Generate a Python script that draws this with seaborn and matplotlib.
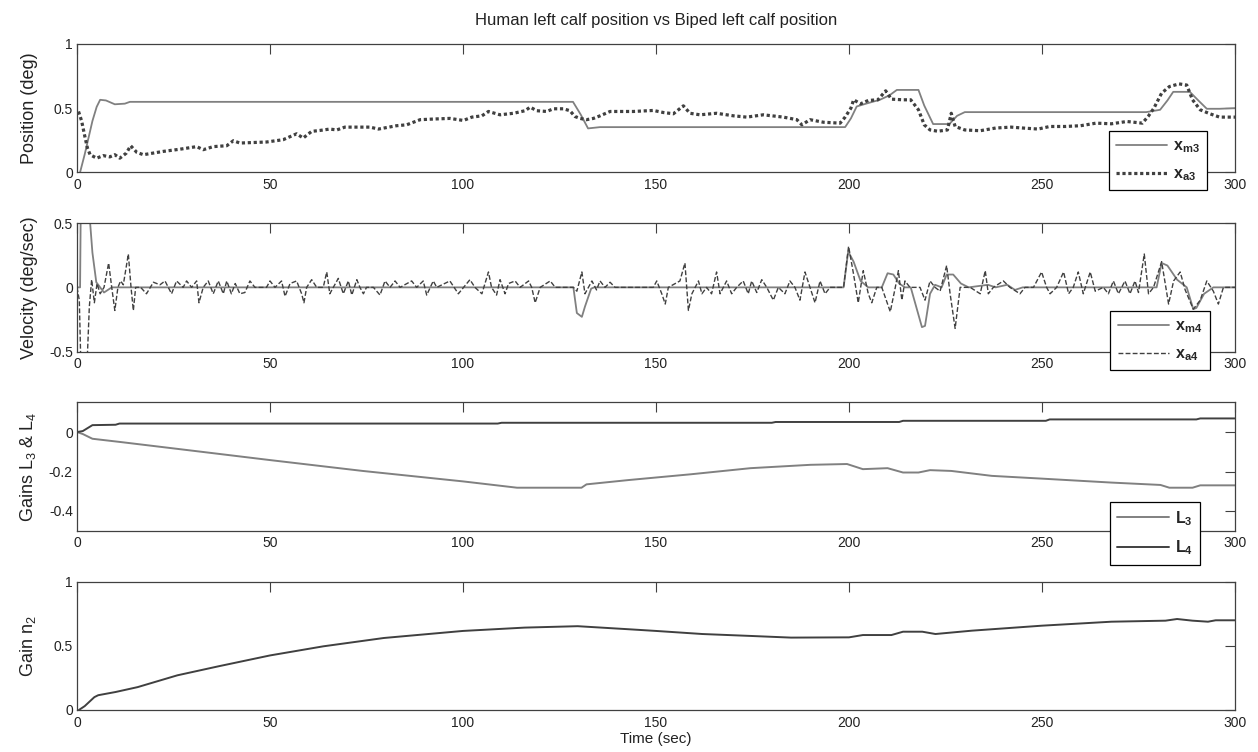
import matplotlib
matplotlib.use('Agg')
import matplotlib.pyplot as plt
import seaborn as sns
import pandas as pd

# --- Position panel (deg) ---
t_m3 = [0.8, 2.0, 3.0, 4.0, 5.1, 6.0, 7.5, 9.8, 12.4, 13.7, 128.5, 130.5, 132.4, 135.5,
        199.0, 200.5, 202.0, 205.0, 208.0, 210.5, 212.4, 218.0, 219.5, 221.8, 226.0, 228.0,
        230.0, 277.0, 280.6, 282.5, 284.0, 288.3, 290.5, 292.7, 296.0, 300.0]
x_m3 = [0.0, 0.14, 0.27, 0.4, 0.51, 0.565, 0.56, 0.53, 0.535, 0.549, 0.549, 0.45, 0.342, 0.352,
        0.352, 0.42, 0.513, 0.54, 0.565, 0.6, 0.642, 0.642, 0.52, 0.376, 0.376, 0.44,
        0.469, 0.469, 0.487, 0.56, 0.627, 0.627, 0.56, 0.495, 0.495, 0.5]

t_a3 = [0.4, 1.2, 2.1, 2.7, 3.4, 5.1, 6.8, 8.5, 9.8, 11.1, 12.8, 13.9, 15.5, 17.2, 19.8, 22.4,
        26.7, 31.0, 32.7, 35.3, 38.8, 40.5, 42.2, 49.1, 53.4, 56.9, 58.6, 60.8, 62.9, 65.5,
        67.3, 69.4, 73.3, 75.9, 78.1, 82.8, 85.4, 88.9, 92.3, 96.6, 100.1, 102.3, 104.9,
        106.6, 109.6, 113.1, 116.1, 117.4, 119.1, 121.7, 123.4, 126.0, 127.7, 129.0, 130.3,
        132.0, 133.8, 135.5, 138.1, 144.1, 149.3, 151.9, 154.5, 157.1, 158.8, 161.4, 165.7,
        170.1, 173.5, 177.8, 183.0, 186.5, 187.8, 189.9, 193.4, 197.7, 199.0, 200.5, 201.2,
        203.0, 205.0, 207.5, 209.5, 211.0, 214.0, 216.0, 218.0, 219.5, 221.0, 223.0, 225.5,
        226.5, 227.5, 230.0, 234.0, 238.0, 242.0, 245.0, 249.0, 252.0, 256.0, 260.0, 264.0,
        268.0, 272.0, 276.0, 277.5, 279.0, 281.0, 283.0, 285.5, 287.5, 289.0, 291.0, 293.5,
        296.0, 300.0]
x_a3 = [0.474, 0.4, 0.27, 0.19, 0.137, 0.11, 0.13, 0.12, 0.137, 0.11, 0.15, 0.207, 0.155, 0.137,
        0.15, 0.163, 0.18, 0.2, 0.176, 0.2, 0.207, 0.246, 0.228, 0.236, 0.254, 0.3, 0.267,
        0.319, 0.326, 0.337, 0.33, 0.352, 0.352, 0.352, 0.337, 0.363, 0.37, 0.41, 0.415, 0.42,
        0.404, 0.43, 0.44, 0.474, 0.448, 0.46, 0.48, 0.508, 0.48, 0.474, 0.495, 0.495, 0.48,
        0.435, 0.42, 0.41, 0.42, 0.44, 0.474, 0.474, 0.482, 0.466, 0.456, 0.518, 0.46, 0.448,
        0.46, 0.44, 0.43, 0.448, 0.43, 0.41, 0.37, 0.41, 0.39, 0.383, 0.43, 0.5, 0.565,
        0.534, 0.56, 0.565, 0.635, 0.57, 0.565, 0.565, 0.487, 0.37, 0.33, 0.32, 0.33,
        0.46, 0.357, 0.33, 0.324, 0.345, 0.352, 0.345, 0.337, 0.357, 0.357, 0.363, 0.383,
        0.378, 0.396, 0.383, 0.435, 0.5, 0.617, 0.668, 0.689, 0.68, 0.565, 0.487, 0.456,
        0.43, 0.43]

# --- Velocity panel (deg/sec) ---
t_m4 = [0.0, 0.8, 1.0, 2.9, 4.0, 5.0, 6.0, 7.0, 8.0, 9.0, 128.6, 129.5, 130.8, 131.6, 133.2,
        134.0, 198.6, 199.8, 201.2, 203.0, 205.0, 208.5, 210.0, 211.5, 213.0, 214.5, 216.0,
        218.9, 219.7, 221.0, 222.3, 224.0, 225.3, 227.0, 229.0, 231.0, 236.0, 238.0, 241.0,
        243.0, 245.0, 279.7, 281.0, 282.5, 285.0, 287.5, 289.2, 290.0, 292.0, 294.4, 300.0]
x_m4 = [0.0, 0.0, 0.7, 0.7, 0.27, 0.04, 0.0, -0.04, -0.02, 0.0, 0.0, -0.2, -0.23, -0.15, -0.01,
        0.0, 0.0, 0.28, 0.2, 0.05, 0.0, 0.0, 0.11, 0.1, 0.03, 0.0, 0.0,
        -0.31, -0.3, -0.05, 0.02, 0.0, 0.1, 0.1, 0.03, 0.0, 0.02, 0.0, 0.02,
        -0.02, 0.0, 0.0, 0.19, 0.17, 0.06, 0.0, -0.17, -0.16, -0.05, 0.0, 0.0]

t_a4 = [0.0, 0.6, 1.0, 2.6, 3.2, 3.8, 4.5, 5.2, 6.0, 7.0, 8.2, 9.0, 9.8, 10.6, 11.3, 12.0, 13.3,
        14.0, 14.6, 15.2, 16.5, 18.0, 19.8, 21.5, 22.8, 24.5, 25.8, 27.5, 28.4, 29.7, 31.0,
        31.6, 32.7, 34.0, 35.3, 36.6, 37.9, 38.8, 40.0, 41.0, 42.2, 43.5, 44.8, 46.1, 49.1,
        50.0, 51.3, 53.0, 53.9, 55.2, 56.9, 58.2, 58.8, 59.5, 60.8, 62.1, 63.8, 64.7, 65.5,
        66.4, 67.7, 69.0, 70.3, 71.2, 72.5, 73.3, 74.2, 75.0, 76.8, 78.5, 79.8, 81.1, 82.4,
        83.7, 86.7, 88.0, 89.7, 90.6, 92.3, 93.2, 96.6, 98.8, 101.8, 103.1, 104.9, 106.6,
        107.4, 108.7, 109.6, 110.9, 111.8, 113.5, 114.8, 117.0, 117.8, 118.7, 120.0, 122.6,
        123.9, 128.6, 129.5, 130.8, 131.6, 133.4, 134.6, 135.5, 136.8, 138.1, 139.4, 149.3,
        150.2, 151.5, 152.4, 153.2, 156.2, 157.5, 158.4, 159.3, 161.0, 161.9, 163.1, 164.4,
        165.7, 166.6, 168.3, 169.6, 170.9, 172.6, 173.9, 174.8, 176.1, 177.4, 178.7, 180.4,
        181.7, 183.4, 184.7, 186.0, 187.3, 188.6, 189.9, 191.2, 192.5, 193.8, 195.1, 198.6,
        199.9, 201.2, 202.4, 203.7, 205.0, 205.9, 207.2, 208.5, 210.7, 212.0, 212.8, 213.7,
        214.5, 215.8, 218.4, 219.7, 221.0, 222.3, 223.6, 225.3, 226.2, 227.5, 228.8, 231.4,
        234.0, 235.3, 236.1, 237.4, 240.0, 241.7, 244.3, 245.6, 247.8, 249.9, 251.2, 252.1,
        253.8, 255.6, 256.9, 258.1, 259.4, 260.7, 262.5, 263.8, 265.9, 267.2, 268.5, 269.8,
        271.5, 272.8, 274.1, 275.0, 276.5, 277.6, 278.9, 281.0, 282.8, 284.1, 285.8, 287.1,
        289.2, 291.0, 292.7, 294.4, 295.7, 297.0, 300.0]
x_a4 = [0.0, -0.1, -0.6, -0.6, -0.15, 0.06, -0.12, 0.03, -0.05, 0.0, 0.19, 0.0, -0.18, 0.0, 0.05,
        0.02, 0.26, 0.0, -0.18, 0.0, 0.0, -0.05, 0.04, 0.02, 0.05, -0.05, 0.05, 0.0, 0.05, 0.0,
        0.05, -0.12, 0.0, 0.05, -0.05, 0.05, -0.05, 0.05, -0.05, 0.03, -0.05, -0.04, 0.05, 0.0,
        0.0, 0.05, 0.0, 0.05, -0.07, 0.03, 0.05, -0.05, -0.12, 0.0, 0.06, 0.0, 0.0, 0.12, -0.05,
        0.0, 0.07, -0.05, 0.05, -0.06, 0.06, 0.0, -0.05, 0.0, 0.0, -0.06, 0.05, 0.0, 0.05,
        0.0, 0.05, 0.0, 0.05, -0.06, 0.05, 0.0, 0.05, -0.05, 0.06, 0.0, -0.05, 0.12,
        0.0, -0.06, 0.06, -0.05, 0.03, 0.05, 0.0, 0.05, 0.0, -0.12, 0.0, 0.05,
        0.0, 0.0, -0.03, 0.12, -0.05, 0.05, -0.02, 0.05, 0.0, 0.04, 0.0, 0.0,
        0.05, -0.05, -0.13, 0.0, 0.05, 0.19, -0.18, -0.05, 0.05, -0.05, 0.0, -0.05,
        0.12, -0.05, 0.05, -0.05, 0.0, 0.05, -0.05, 0.05, -0.04, 0.06, 0.0, -0.1,
        0.0, -0.05, 0.05, 0.0, -0.1, 0.12, 0.0, -0.12, 0.05, -0.05, 0.0, 0.0,
        0.32, 0.1, -0.12, 0.13, -0.05, -0.12, 0.0, 0.0, -0.19, 0.0, 0.13, -0.1,
        0.05, 0.0, 0.0, -0.1, 0.05, 0.0, -0.03, 0.17, -0.05, -0.32, 0.0, 0.0,
        -0.05, 0.13, -0.05, 0.0, 0.05, 0.0, -0.05, 0.0, 0.0, 0.12, 0.0, -0.05,
        0.0, 0.12, -0.05, 0.0, 0.12, -0.05, 0.12, -0.03, 0.0, -0.05, 0.05, -0.05,
        0.05, -0.05, 0.05, -0.04, 0.26, -0.05, 0.0, 0.2, -0.13, 0.05, 0.12, -0.02,
        -0.17, -0.1, 0.05, -0.03, -0.13, 0.0, 0.0]

# --- Gains L3 & L4 ---
t_L3 = [0, 1.5, 4, 11.5, 31, 50, 74, 100, 114, 130.7, 132, 143, 159, 174.5, 190, 199.5, 203.6,
        210, 214, 218, 221, 226.5, 237, 250, 268, 280.7, 283, 289, 291, 300]
L3 = [0, -0.01, -0.034, -0.051, -0.097, -0.142, -0.197, -0.25, -0.282, -0.282, -0.265, -0.243,
      -0.214, -0.183, -0.166, -0.162, -0.188, -0.183, -0.205, -0.205, -0.193, -0.197, -0.222,
      -0.236, -0.256, -0.268, -0.282, -0.282, -0.27, -0.27]
t_L4 = [0, 1.5, 4, 10, 11, 109, 110, 180, 181, 213, 214, 251, 252, 290, 291, 300]
L4 = [0, 0.005, 0.035, 0.037, 0.043, 0.043, 0.047, 0.047, 0.051, 0.051, 0.057, 0.057, 0.064,
      0.064, 0.069, 0.069]

# --- Gain n2 ---
t_n2 = [0.5, 2, 4.5, 5.5, 10, 15.7, 26, 36.6, 50, 63.8, 79.5, 100, 116, 129.7, 143, 150, 162,
        174.5, 185, 200, 203.6, 211, 214, 219, 222.4, 231.8, 250, 268, 282, 285, 289, 293, 295,
        300]
n2 = [0, 0.03, 0.1, 0.115, 0.14, 0.178, 0.27, 0.34, 0.425, 0.496, 0.561, 0.616, 0.642, 0.653,
      0.629, 0.616, 0.592, 0.577, 0.564, 0.566, 0.584, 0.584, 0.61, 0.61, 0.592, 0.618, 0.657,
      0.688, 0.696, 0.709, 0.696, 0.688, 0.699, 0.699]

x_ticks = [0, 50, 100, 150, 200, 250, 300]

LIGHT = '#808080'
DARK = '#404040'
TXT = '#222222'

sns.set_theme(style='white')
plt.rcParams['font.family'] = ['Liberation Sans', 'DejaVu Sans']
plt.rcParams['mathtext.fontset'] = 'custom'
plt.rcParams['mathtext.rm'] = 'Liberation Sans'
plt.rcParams['mathtext.it'] = 'Liberation Sans:italic'
plt.rcParams['mathtext.bf'] = 'Liberation Sans:bold'

fig, axes = plt.subplots(4, 1, figsize=(12.58, 7.52), dpi=100)
fig.subplots_adjust(left=0.0612, right=0.9817, top=0.9415, bottom=0.0559, hspace=0.397)
ax1, ax2, ax3, ax4 = axes


def line(ax, t, v, color, lw, ls='-', label=None):
    df = pd.DataFrame({'t': t, 'v': v})
    sns.lineplot(data=df, x='t', y='v', ax=ax, color=color, linewidth=lw, linestyle=ls,
                 label=label, estimator=None, sort=False)


line(ax1, t_m3, x_m3, LIGHT, 1.3, '-', r'$\mathbf{x_{m3}}$')
line(ax1, t_a3, x_a3, DARK, 2.3, (0, (1, 0.85)), r'$\mathbf{x_{a3}}$')
line(ax2, t_m4, x_m4, LIGHT, 1.3, '-', r'$\mathbf{x_{m4}}$')
line(ax2, t_a4, x_a4, DARK, 1.0, (0, (3.5, 1.6)), r'$\mathbf{x_{a4}}$')
line(ax3, t_L3, L3, LIGHT, 1.4, '-', r'$\mathbf{L_{3}}$')
line(ax3, t_L4, L4, DARK, 1.4, '-', r'$\mathbf{L_{4}}$')
line(ax4, t_n2, n2, DARK, 1.4, '-')

ylims = [(0, 1), (-0.5, 0.5), (-0.5, 0.15), (0, 1)]
yticks = [[0, 0.5, 1], [-0.5, 0, 0.5], [-0.4, -0.2, 0], [0, 0.5, 1]]
ytlabels = [['0', '0.5', '1'], ['-0.5', '0', '0.5'], ['-0.4', '-0.2', '0'], ['0', '0.5', '1']]
ylabels = ['Position (deg)', 'Velocity (deg/sec)', r'Gains L$_3$ & L$_4$', r'Gain n$_2$']

for ax, yl, yt, ytl, lab in zip(axes, ylims, yticks, ytlabels, ylabels):
    ax.set_xlim(0, 300)
    ax.set_ylim(*yl)
    ax.set_xticks(x_ticks)
    ax.set_xticklabels([str(x) for x in x_ticks])
    ax.set_yticks(yt)
    ax.set_yticklabels(ytl)
    ax.tick_params(direction='in', top=True, right=True, length=7, width=0.8,
                   color=DARK, labelcolor=TXT, labelsize=10)
    ax.tick_params(axis='x', pad=4)
    ax.tick_params(axis='y', pad=3)
    for sp in ax.spines.values():
        sp.set_color(DARK)
        sp.set_linewidth(0.9)
    ax.set_xlabel('')
    ax.set_ylabel(lab, fontsize=13, color=TXT)
    ax.yaxis.set_label_coords(-0.034, 0.5)
    if ax.get_legend() is not None:
        ax.get_legend().remove()

ax4.set_xlabel('Time (sec)', fontsize=11, color=TXT, labelpad=2)

leg_pos = {ax1: (0.976, -0.14), ax2: (0.978, -0.147), ax3: (0.970, -0.264)}
for ax, anchor in leg_pos.items():
    leg = ax.legend(loc='lower right', bbox_to_anchor=anchor, borderaxespad=0,
                    fontsize=11.5, frameon=True, fancybox=False, framealpha=1,
                    edgecolor='black', handlelength=3.2, handletextpad=0.4,
                    labelspacing=0.7, borderpad=0.45)
    leg.get_frame().set_linewidth(0.9)
    leg.set_zorder(10)

fig.text(0.5215, 1 - 21 / 752, 'Human left calf position vs Biped left calf position',
         ha='center', va='center', fontsize=12, color=TXT)

fig.savefig('out.png', dpi=100, facecolor='white')
